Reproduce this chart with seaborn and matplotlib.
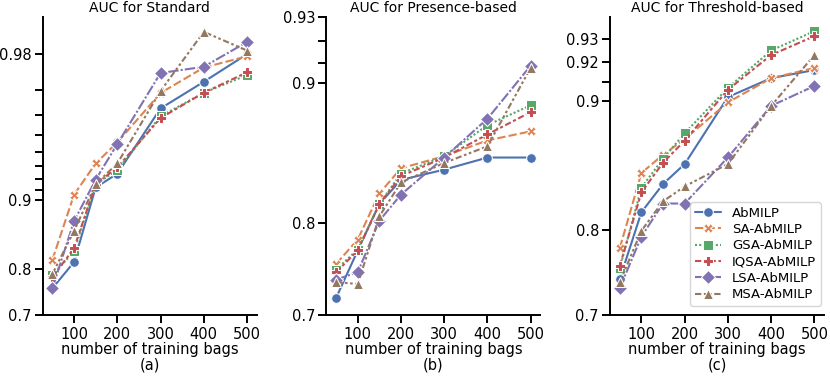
import numpy as np
import pandas as pd
import matplotlib
matplotlib.use("Agg")
import matplotlib.pyplot as plt
import matplotlib.ticker as mticker
import seaborn as sns

# number of training bags
bags = [50, 100, 150, 200, 300, 400, 500]
methods = ["AbMILP", "SA-AbMILP", "GSA-AbMILP", "IQSA-AbMILP", "LSA-AbMILP", "MSA-AbMILP"]

# AUC, Standard
std_abmilp = [0.762, 0.813, 0.912, 0.924, 0.963, 0.9726, 0.980]
std_sa = [0.817, 0.905, 0.932, 0.946, 0.9689, 0.9767, 0.9795]
std_gsa = [0.789, 0.831, 0.915, 0.927, 0.9596, 0.969, 0.9746]
std_iqsa = [0.785, 0.836, 0.915, 0.929, 0.9588, 0.969, 0.9754]
std_lsa = [0.762, 0.875, 0.919, 0.945, 0.9752, 0.9769, 0.9826]
std_msa = [0.791, 0.862, 0.915, 0.932, 0.9696, 0.9845, 0.9808]

# AUC, Presence-based
pres_abmilp = [0.721, 0.773, 0.817, 0.837, 0.845, 0.854, 0.854]
pres_sa = [0.759, 0.784, 0.826, 0.846, 0.855, 0.866, 0.872]
pres_gsa = [0.753, 0.774, 0.817, 0.842, 0.855, 0.876, 0.888]
pres_iqsa = [0.750, 0.773, 0.817, 0.840, 0.854, 0.870, 0.884]
pres_lsa = [0.742, 0.750, 0.802, 0.825, 0.854, 0.880, 0.909]
pres_msa = [0.739, 0.737, 0.806, 0.835, 0.850, 0.862, 0.908]

# AUC, Threshold-based
thr_abmilp = [0.746, 0.817, 0.842, 0.858, 0.902, 0.912, 0.916]
thr_sa = [0.781, 0.851, 0.865, 0.876, 0.899, 0.912, 0.917]
thr_gsa = [0.759, 0.839, 0.862, 0.880, 0.907, 0.925, 0.933]
thr_iqsa = [0.761, 0.835, 0.859, 0.875, 0.906, 0.923, 0.931]
thr_lsa = [0.735, 0.793, 0.825, 0.825, 0.863, 0.897, 0.908]
thr_msa = [0.742, 0.799, 0.827, 0.840, 0.858, 0.897, 0.923]

panels = [
    ("AUC for Standard", "(a)",
     [std_abmilp, std_sa, std_gsa, std_iqsa, std_lsa, std_msa],
     [0.7, 0.8, 0.9, 0.98], (0.7, 0.987)),
    ("AUC for Presence-based", "(b)",
     [pres_abmilp, pres_sa, pres_gsa, pres_iqsa, pres_lsa, pres_msa],
     [0.7, 0.8, 0.9, 0.93], (0.7, 0.93)),
    ("AUC for Threshold-based", "(c)",
     [thr_abmilp, thr_sa, thr_gsa, thr_iqsa, thr_lsa, thr_msa],
     [0.7, 0.8, 0.9, 0.92, 0.93], (0.7, 0.9385)),
]
minor_all = [0.91, 0.92, 0.93, 0.94, 0.95, 0.96, 0.97, 0.98]
marker_list = ["o", "X", "s", "P", "D", "^"]


def make_frame(series):
    rows = []
    for name, vals in zip(methods, series):
        for b, v in zip(bags, vals):
            rows.append({"bags": b, "auc": v, "method": name})
    return pd.DataFrame(rows)


sns.set_theme(style="ticks", palette="deep")
plt.rcParams["font.family"] = ["DejaVu Sans"]
plt.rcParams.update({
    "text.color": "black", "axes.labelcolor": "black",
    "xtick.color": "black", "ytick.color": "black",
    "axes.edgecolor": "black", "axes.linewidth": 1.4,
    "xtick.major.width": 1.4, "ytick.major.width": 1.4,
    "ytick.minor.size": 6, "ytick.minor.width": 1.4,
})

fig, axes = plt.subplots(1, 3, figsize=(8.3, 3.76), dpi=100)
plt.subplots_adjust(left=0.0514, right=0.993, top=0.956, bottom=0.161, wspace=0.325)

for i, (ax, (title, tag, series, yt, ylim)) in enumerate(zip(axes, panels)):
    df = make_frame(series)
    sns.lineplot(data=df, x="bags", y="auc", hue="method", style="method",
                 markers=marker_list, dashes=True, ax=ax, legend=(i == 2),
                 linewidth=1.5, markersize=7)
    # logit y axis
    ax.set_yscale("logit")
    ax.set_ylim(*ylim)
    ax.set_yticks(yt)
    ax.set_yticklabels([f"{v:g}" for v in yt])
    ax.yaxis.set_minor_locator(mticker.FixedLocator(
        [m for m in minor_all if ylim[0] < m < ylim[1] and m not in yt]))
    ax.yaxis.set_minor_formatter(mticker.NullFormatter())
    ax.set_xticks([100, 200, 300, 400, 500])
    ax.tick_params(axis="both", labelsize=10.5, pad=2)
    ax.set_title(title, fontsize=10, pad=3)
    ax.set_xlabel("number of training bags\n" + tag, fontsize=10.5, labelpad=0,
                  linespacing=1.1)
    ax.set_ylabel("")
    sns.despine(ax=ax)

leg = axes[2].legend(loc="lower right", fontsize=9.5, bbox_to_anchor=(1.015, 0.01),
                     labelspacing=0.25, borderpad=0.35)

fig.savefig("out.png", dpi=100)
